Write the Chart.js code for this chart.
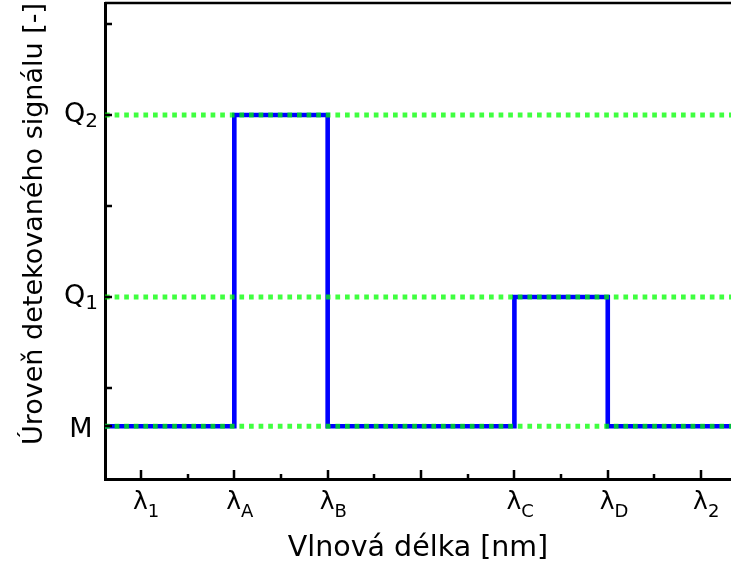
<!DOCTYPE html>
<html>
<head>
<meta charset="utf-8">
<script src="https://cdn.jsdelivr.net/npm/chart.js@4/dist/chart.umd.min.js"></script>
<style>
  html, body { margin: 0; padding: 0; background: #fff; }
  #wrap { width: 731px; height: 566px; }
</style>
</head>
<body>
<div id="wrap"><canvas id="signalChart" width="731" height="566"></canvas></div>
<script>
// osa x: vlnové délky (bezrozměrné pozice)
const xMin = 0.615;
const xMax = 7.32;
const xTickValues = [1, 2, 3, 4, 5, 6, 7];
const xTickSubs   = ['1', 'A', 'B', '', 'C', 'D', '2'];   // λ + index, '' = bez popisku
const xMinorTicks = [1.5, 2.5, 3.5, 4.5, 5.5, 6.5];

// osa y: úrovně signálu
const yMin = 0;
const yMax = 2.615;
const levelNames  = ['M', 'Q', 'Q'];
const levelSubs   = ['', '1', '2'];
const levelValues = [0.29, 1, 2];
const yTickValues = [0.5, 1, 1.5, 2, 2.5];

// detekovaný signál (schodovitý průběh)
const signalX = [xMin, 2, 2, 3, 3, 5, 5, 6, 6, xMax];
const signalY = [0.29, 0.29, 2, 2, 0.29, 0.29, 1, 1, 0.29, 0.29];

const FONT = '"DejaVu Sans", Verdana, sans-serif';

const levelDatasets = levelValues.map(v => ({
  data: [{ x: xMin, y: v }, { x: xMax, y: v }],
  borderColor: 'rgba(0,255,0,0.75)',
  borderWidth: 5,
  borderDash: [4.7, 4.9],
  borderCapStyle: 'butt',
  pointRadius: 0,
  order: 0,
}));

const signalDataset = {
  data: signalX.map((x, i) => ({ x, y: signalY[i] })),
  borderColor: '#0000ff',
  borderWidth: 4.6,
  borderJoinStyle: 'miter',
  pointRadius: 0,
  order: 1,
};

const axisDecor = {
  id: 'axisDecor',
  afterDatasetsDraw(chart) {
    const { ctx, chartArea: a, scales: { x, y } } = chart;
    ctx.save();

    // horní rámeček
    ctx.strokeStyle = '#000';
    ctx.lineWidth = 2.5;
    ctx.beginPath();
    ctx.moveTo(a.left, a.top);
    ctx.lineTo(a.right, a.top);
    ctx.stroke();

    // značky dovnitř grafu
    ctx.lineWidth = 2.5;
    ctx.beginPath();
    xTickValues.forEach(v => {
      const px = Math.round(x.getPixelForValue(v));
      ctx.moveTo(px, a.bottom); ctx.lineTo(px, a.bottom - 9);
    });
    xMinorTicks.forEach(v => {
      const px = Math.round(x.getPixelForValue(v));
      ctx.moveTo(px, a.bottom); ctx.lineTo(px, a.bottom - 5);
    });
    yTickValues.concat(levelValues).forEach(v => {
      const py = Math.round(y.getPixelForValue(v));
      ctx.moveTo(a.left, py); ctx.lineTo(a.left + 7, py);
    });
    ctx.stroke();

    ctx.fillStyle = '#000';
    ctx.textBaseline = 'alphabetic';

    // popisky osy x: λ s indexem
    xTickValues.forEach((v, i) => {
      if (!xTickSubs[i]) return;
      const px = x.getPixelForValue(v);
      ctx.textAlign = 'left';
      ctx.font = '25px ' + FONT;
      const w = ctx.measureText('λ').width;
      ctx.fillText('λ', px - 8, a.bottom + 30);
      ctx.font = '18px ' + FONT;
      ctx.fillText(xTickSubs[i], px - 8 + w, a.bottom + 38);
    });

    // popisky osy y: M, Q1, Q2
    levelValues.forEach((v, i) => {
      const py = y.getPixelForValue(v);
      const cx = a.left - 24;
      ctx.font = '27px ' + FONT;
      const wMain = ctx.measureText(levelNames[i]).width;
      let wSub = 0;
      if (levelSubs[i]) {
        ctx.font = '20px ' + FONT;
        wSub = ctx.measureText(levelSubs[i]).width;
      }
      const left = cx - (wMain + wSub) / 2;
      ctx.textAlign = 'left';
      ctx.font = '27px ' + FONT;
      ctx.fillText(levelNames[i], left, py + (levelSubs[i] ? 7 : 10.5));
      if (levelSubs[i]) {
        ctx.font = '20px ' + FONT;
        ctx.fillText(levelSubs[i], left + wMain, py + 12);
      }
    });

    // názvy os
    ctx.textAlign = 'center';
    ctx.font = '28.5px ' + FONT;
    ctx.fillText('Vlnová délka [nm]', (a.left + a.right) / 2, 556);

    ctx.translate(42, 224);
    ctx.rotate(-Math.PI / 2);
    ctx.font = '27px ' + FONT;
    ctx.fillText('Úroveň detekovaného signálu [-]', 0, 0);

    ctx.restore();
  }
};

new Chart(document.getElementById('signalChart'), {
  type: 'line',
  data: { datasets: [...levelDatasets, signalDataset] },
  options: {
    responsive: false,
    animation: false,
    devicePixelRatio: 1,
    layout: { padding: { top: 3, right: 0, left: 0, bottom: 0 } },
    plugins: { legend: { display: false }, tooltip: { enabled: false } },
    elements: { line: { tension: 0 } },
    scales: {
      x: {
        type: 'linear',
        min: xMin,
        max: xMax,
        grid: { display: false },
        border: { display: true, color: '#000', width: 3 },
        ticks: { display: false },
        afterFit: s => { s.height = 87; },
      },
      y: {
        type: 'linear',
        min: yMin,
        max: yMax,
        grid: { display: false },
        border: { display: true, color: '#000', width: 3 },
        ticks: { display: false },
        afterFit: s => { s.width = 105; },
      },
    },
  },
  plugins: [axisDecor],
});
</script>
</body>
</html>
